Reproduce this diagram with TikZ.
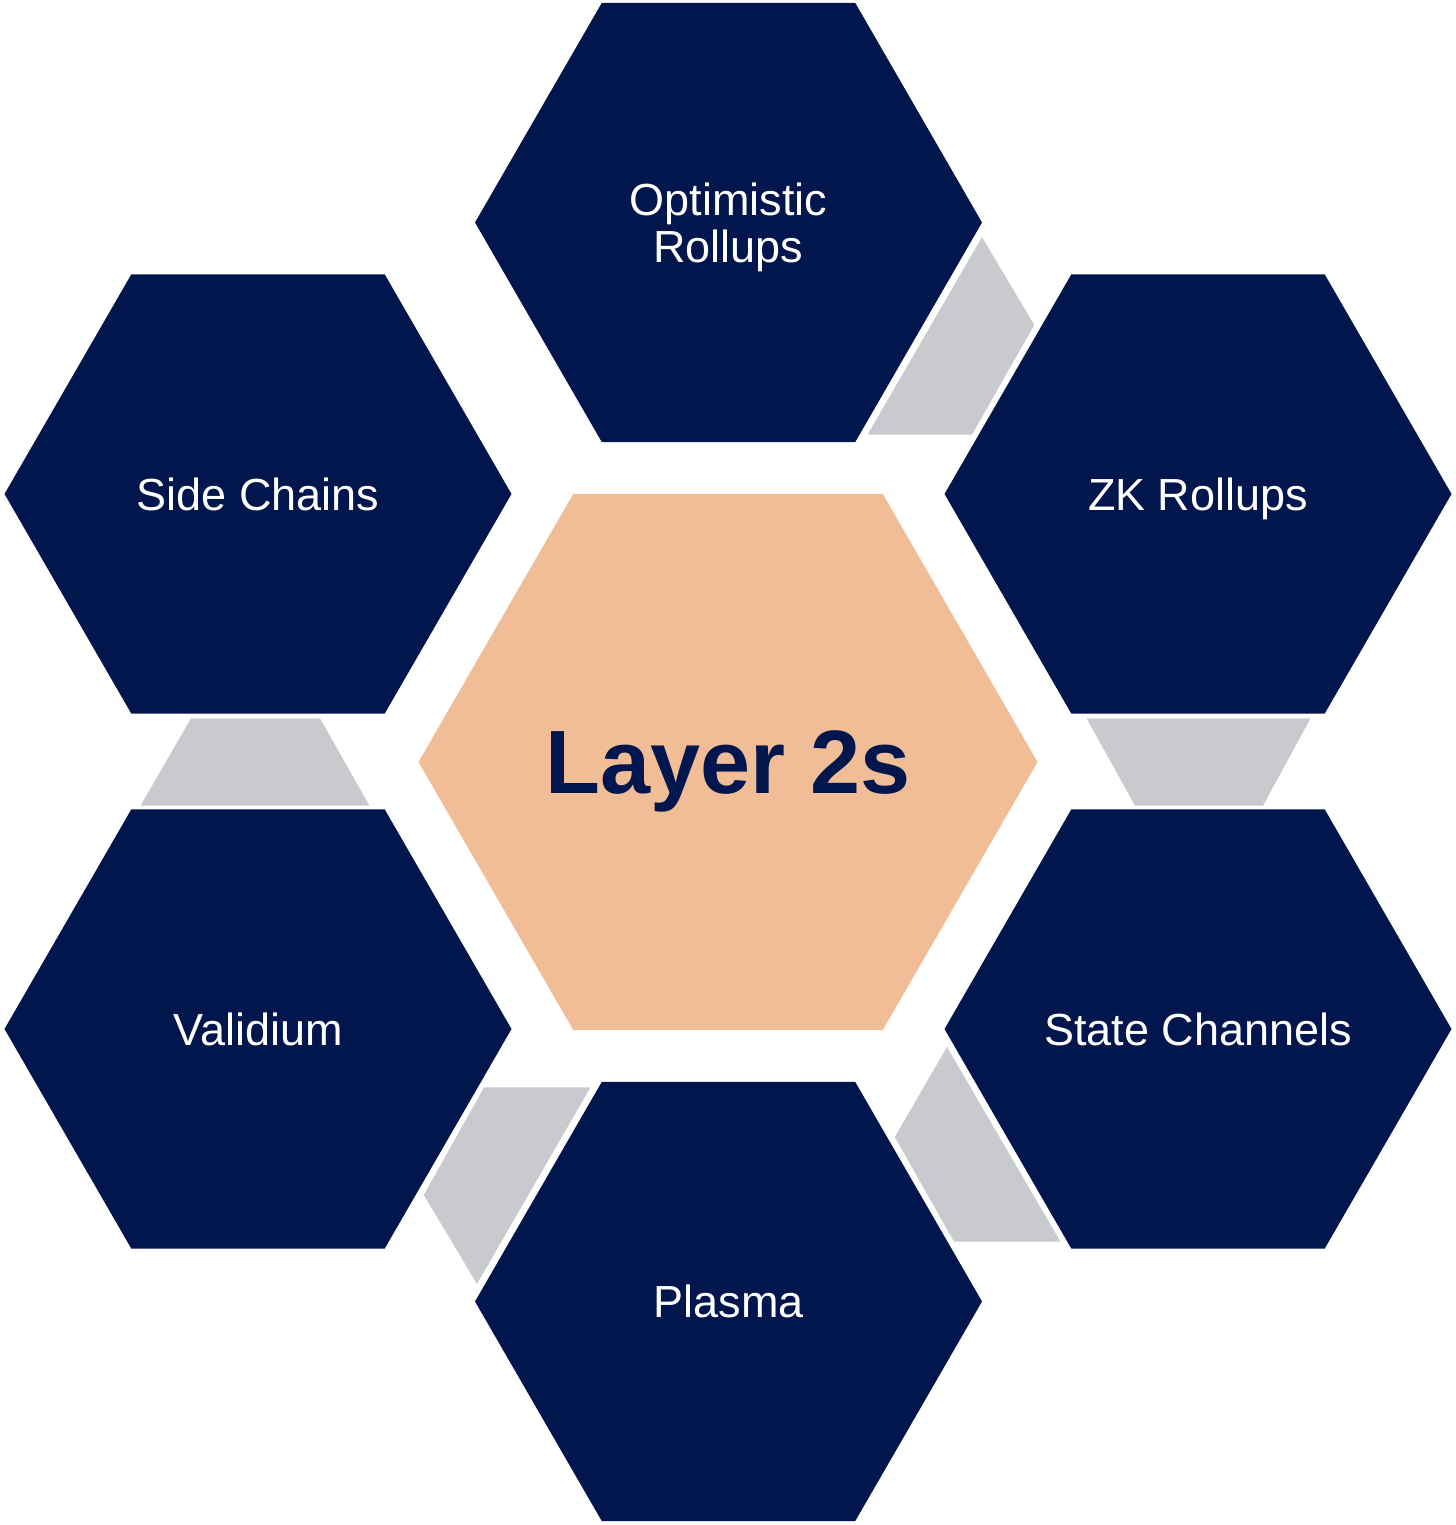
\documentclass[tikz,border=0pt]{standalone}
\usepackage{fontspec}
\setmainfont{Liberation Sans}
\usepackage{tikz}
\usetikzlibrary{shapes.geometric}

\definecolor{navy}{RGB}{2,22,78}
\definecolor{peach}{RGB}{241,189,151}
\definecolor{linkgray}{RGB}{201,202,206}

\begin{document}
\begin{tikzpicture}[
		hexbox/.style={shape=regular polygon, regular polygon sides=6, minimum size=5.07cm,
			inner sep=0pt, outer sep=0pt, fill=navy, text=white, align=center, text depth=0pt,
			font=\fontsize{12.8}{13.4}\selectfont},
		corehex/.style={hexbox, minimum size=6.19cm, fill=peach, text=navy,
			font=\bfseries\fontsize{25.6}{30}\selectfont},
		linkpiece/.style={fill=linkgray, draw=white, line width=0.8pt}
	]
	
	\useasboundingbox (0,0) rectangle (14.56,15.25);
	
	% Gray joints between neighbouring hexagons
	\draw[linkpiece] (9.82,12.91) -- (10.36,12.00) -- (9.73,10.89) -- (8.65,10.89) -- cycle;
	\draw[linkpiece] (10.84,8.08) -- (13.13,8.08) -- (12.64,7.18) -- (11.34,7.18) -- cycle;
	\draw[linkpiece] (9.47,4.81) -- (10.63,2.82) -- (9.53,2.82) -- (8.93,3.88) -- cycle;
	\draw[linkpiece] (4.83,4.39) -- (5.93,4.39) -- (4.77,2.38) -- (4.22,3.30) -- cycle;
	\draw[linkpiece] (1.90,8.08) -- (3.21,8.08) -- (3.72,7.18) -- (1.38,7.18) -- cycle;
	
	% Layer 2s
	\node[corehex] (layer) at (7.28,7.63) {Layer 2s};
	
	% Outer hexagons
	\node[hexbox] (optimistic) at (7.285,13.025) {Optimistic\\Rollups};
	\node[hexbox] (zk) at (11.98,10.31) {ZK Rollups};
	\node[hexbox] (state) at (11.98,4.96) {State Channels};
	\node[hexbox] (plasma) at (7.285,2.235) {Plasma};
	\node[hexbox] (validium) at (2.58,4.96) {Validium};
	\node[hexbox] (side) at (2.58,10.31) {Side Chains};
	
\end{tikzpicture}
\end{document}
